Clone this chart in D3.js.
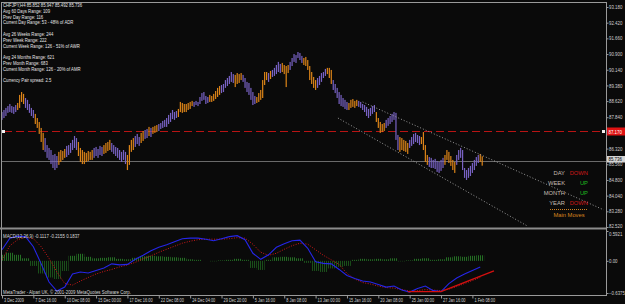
<!DOCTYPE html>
<html><head><meta charset="utf-8">
<script src="https://cdn.jsdelivr.net/npm/d3@7"></script>
<style>
html,body{margin:0;padding:0;background:#0a0a0a;overflow:hidden}
svg{display:block}
text{font-family:"Liberation Sans",Arial,sans-serif}
</style></head><body>
<svg id="c" width="625" height="304"></svg>
<script>
// ---------- DATA ----------
const highs = [
88.09,88.19,88.29,88.38,88.48,88.38,88.34,88.43,88.53,88.92,
89.06,88.97,88.77,88.68,88.48,88.29,88.19,88.00,87.80,87.61,
87.32,87.08,86.83,86.49,86.35,86.25,86.01,86.06,85.96,86.16,
86.25,86.20,86.30,86.45,86.49,86.59,86.74,86.93,86.83,86.64,
86.35,86.25,86.16,86.11,86.20,86.16,86.25,86.35,86.40,86.30,
86.45,86.40,86.49,86.59,86.64,86.74,86.59,86.49,86.40,86.35,
86.25,86.16,86.25,86.16,86.01,86.49,86.74,86.83,86.93,87.03,
86.88,87.08,87.17,87.22,87.27,87.37,87.32,87.37,87.42,87.46,
87.51,87.56,87.66,87.71,87.80,87.95,88.05,88.19,88.09,88.14,
88.24,88.58,88.53,88.48,88.48,88.53,88.58,88.63,88.58,88.63,
88.58,88.82,89.01,89.06,88.87,88.82,88.92,88.87,88.97,89.11,
89.26,89.35,89.40,89.45,89.64,89.74,89.84,90.03,89.93,89.89,
89.98,89.93,89.98,89.89,89.74,89.55,89.50,89.26,89.06,88.87,
88.82,89.01,89.16,89.64,90.03,90.03,89.98,90.08,90.13,90.23,
90.37,90.52,90.42,90.47,90.37,90.32,90.37,90.52,90.71,90.90,
90.85,91.00,90.95,90.81,90.71,90.76,90.61,90.32,90.03,89.79,
89.64,89.74,89.84,89.98,90.03,90.18,90.23,90.23,90.13,89.64,
89.45,89.26,89.06,88.92,88.77,88.68,88.58,88.53,88.68,88.72,
88.63,88.68,88.63,88.58,88.48,88.43,88.34,88.24,88.29,88.38,
88.43,88.09,87.80,87.61,87.51,87.56,87.71,87.80,87.90,88.00,
88.09,88.05,86.98,86.88,86.83,86.74,86.69,86.59,86.74,86.88,
87.03,87.08,86.98,86.93,86.88,87.12,86.49,86.01,85.91,85.87,
85.77,85.82,85.72,85.67,85.77,85.87,86.01,86.25,86.16,85.96,
85.77,85.67,86.01,86.25,86.35,86.25,85.38,85.28,85.38,85.48,
85.62,85.77,85.91,86.01,86.06,85.947];
const lows = [
87.71,87.80,87.90,88.05,88.09,88.05,88.00,88.09,88.19,88.29,
88.58,88.48,88.29,88.19,88.05,87.90,87.80,87.51,87.32,87.03,
86.64,86.25,86.16,85.87,85.77,85.57,85.38,85.28,85.38,85.53,
85.67,85.77,85.87,85.91,86.01,86.11,86.25,86.35,86.25,85.96,
85.67,85.57,85.57,85.67,85.72,85.77,85.77,85.87,85.96,85.87,
86.01,85.96,86.06,86.11,86.20,86.25,86.16,86.06,85.96,85.87,
85.77,85.67,85.77,85.57,85.28,85.53,86.16,86.25,86.40,86.54,
86.45,86.59,86.69,86.79,86.83,86.93,86.88,87.03,87.08,87.12,
87.17,87.27,87.32,87.37,87.37,87.51,87.61,87.75,87.71,87.80,
87.85,88.09,88.05,88.09,88.09,88.19,88.24,88.38,88.34,88.43,
88.38,88.48,88.63,88.68,88.48,88.53,88.58,88.58,88.63,88.72,
88.82,88.92,89.01,89.06,89.26,89.35,89.45,89.55,89.50,89.30,
89.45,89.50,89.64,89.55,89.26,89.06,88.92,88.68,88.43,88.48,
88.53,88.58,88.68,88.77,89.40,89.64,89.55,89.69,89.79,89.84,
89.93,90.03,89.98,90.03,89.93,89.30,89.98,90.13,90.32,90.52,
90.47,90.71,90.61,90.47,90.37,90.32,90.13,89.64,89.45,89.26,
89.16,89.26,89.40,89.55,89.74,89.84,89.93,89.74,89.45,89.16,
89.01,88.77,88.48,88.38,88.34,88.24,88.19,88.19,88.29,88.34,
88.29,88.38,88.34,88.29,88.19,88.09,87.90,87.80,87.90,88.00,
88.09,87.61,87.32,87.08,87.12,87.17,87.32,87.42,87.51,87.61,
87.71,86.74,86.25,86.16,86.25,86.20,86.16,86.06,86.35,86.45,
86.54,86.64,86.59,86.49,86.54,86.25,85.67,85.53,85.43,85.38,
85.38,85.33,85.19,85.14,85.24,85.38,85.53,85.77,85.62,85.48,
85.28,85.14,85.53,85.77,85.87,85.28,84.90,84.80,84.90,84.99,
85.14,85.28,85.48,85.62,85.67,85.492];
// bar type per bar: u = orange, d = purple
const barTypes = ("dddddddd"+"uuuu"+"ddddd"+"uuuuu"+"ddddddd"+"uuuu"+"dddddd"+"uuuuuuuu"+
  "ddddd"+"uuuu"+"dddddddd"+"uuuu"+"ddd"+"uu"+"dd"+"u"+"d"+"uuu"+"dddddddddd"+"uuuuuuuu"+
  "dddddddd"+"uuuuuu"+"ddddddd"+"uuuu"+"ddddddd"+"uuuuuu"+"d"+"u"+"ddddd"+"uuuu"+"ddddddd"+
  "uuuuuuu"+"ddddd"+"uuu"+"dddddddd"+"uuuuu"+"ddddddddd"+"uuuuu"+"ddddddd"+"uuuuu"+"dddddd"+
  "uuuu"+"dddddddd"+"uuuuuu"+"dddddddddddd"+"uu").split("");

const priceTicks = [93.18,92.42,91.66,90.90,90.14,89.38,88.62,87.84,86.32,85.56,84.80,84.04,83.28,82.52];
const levelPrice = 87.17;
const levelLabel = "87.170";
const bidPrice = 85.736;
const bidLabel = "85.736";

// channel lines: [bar index, price]
const channelUpper = [[184, 88.58],[307, 83.35]];
const channelLower = [[171.4, 87.80],[268, 82.57]];

// MACD samples every 4 bars
const macdMain = [0.22,0.45,0.49,0.48,0.28,-0.06,-0.42,-0.60,-0.52,-0.26,
 -0.22,-0.24,-0.19,-0.14,-0.06,-0.08,-0.07,0.03,0.11,0.20,
 0.27,0.32,0.38,0.44,0.45,0.45,0.43,0.40,0.44,0.48,
 0.50,0.42,0.15,0.03,0.12,0.27,0.34,0.40,0.41,0.25,
 -0.02,-0.05,-0.06,-0.17,-0.29,-0.35,-0.40,-0.42,-0.47,-0.52,
 -0.50,-0.58,-0.62,-0.55,-0.50,-0.59,-0.61,-0.45,-0.34,-0.26,
 -0.19,-0.12];
const macdSignal = [0.02,0.30,0.42,0.47,0.44,0.28,0.05,-0.22,-0.45,-0.48,
 -0.40,-0.33,-0.26,-0.21,-0.17,-0.12,-0.08,-0.03,0.04,0.10,
 0.17,0.23,0.29,0.35,0.39,0.42,0.43,0.43,0.43,0.44,
 0.46,0.45,0.33,0.17,0.11,0.15,0.23,0.30,0.35,0.33,
 0.22,0.11,0.02,-0.07,-0.25,-0.36,-0.43,-0.46,-0.50,-0.53,
 -0.54,-0.57,-0.60,-0.59,-0.57,-0.58,-0.59,-0.56,-0.51,-0.45,
 -0.39,-0.33];
const macdHist = [0.12,0.16,0.12,0.05,-0.10,-0.25,-0.33,-0.36,-0.20,0.10,
 0.14,0.08,0.05,0.06,0.07,0.04,0.03,0.06,0.09,0.10,
 0.09,0.08,0.07,0.06,0.03,0.02,0.00,-0.01,0.01,0.02,
 0.04,0.02,-0.14,-0.18,0.02,0.07,0.08,0.07,0.05,-0.04,
 -0.20,-0.22,-0.15,-0.12,-0.10,0.02,0.04,0.03,0.04,0.03,
 0.05,-0.01,0.01,0.04,0.05,0.02,0.03,0.07,0.09,0.08,
 0.10,0.11];
const macdTicks = [0.5921, 0, -0.6375];
const macdTrend = [[207,-0.61],[224,-0.61],[251,-0.20]];

const timeLabels = ["3 Dec 2009","7 Dec 16:00","10 Dec 08:00","15 Dec 00:00","17 Dec 16:00",
 "22 Dec 08:00","24 Dec 04:00","29 Dec 20:00","5 Jan 16:00","8 Jan 08:00","13 Jan 00:00",
 "15 Jan 16:00","20 Jan 08:00","25 Jan 00:00","27 Jan 16:00","1 Feb 08:00"];

const infoLines = ["CHFJPY,H4 85.852 85.947 85.492 85.736","Avg 60 Days Range: 109","Prev Day Range: 116",
 "Current Day Range: 53 - 48% of ADR","","Avg 26 Weeks Range: 244","Prev Week Range: 222",
 "Current Week Range: 126 - 51% of AWR","","Avg 24 Months Range: 621","Prev Month Range: 683",
 "Current Month Range: 126 - 20% of AMR","","Currency Pair spread: 2.5"];
const trendPeriods = ["DAY","WEEK","MONTH","YEAR"];
const trendStates = ["DOWN","UP","UP","DOWN"];
const macdTitle = "MACD(12,26,9) -0.1117 -0.2155 0.1837";
const copyright = "MetaTrader - Alpari UK, \u00a9 2001-2009 MetaQuotes Software Corp.";

// ---------- LAYOUT ----------
const W=625,H=304, L=1, R=606, mainTop=2, mainBot=227, macdTop=230, macdBot=295;
const svg = d3.select("#c");
svg.append("rect").attr("width",W).attr("height",H).attr("fill","#0a0a0a");
const defs = svg.append("defs");
defs.append("clipPath").attr("id","cm").append("rect").attr("x",L).attr("y",mainTop).attr("width",R-L).attr("height",mainBot-mainTop);
defs.append("clipPath").attr("id","cd").append("rect").attr("x",L).attr("y",macdTop).attr("width",R-L).attr("height",macdBot-macdTop);
[["hp","#236f23"],["hn","#1a501a"]].forEach(([id,c])=>{
  const p=defs.append("pattern").attr("id",id).attr("patternUnits","userSpaceOnUse").attr("width",2).attr("height",2);
  p.append("rect").attr("width",1).attr("height",2).attr("fill",c);
});

const x = d3.scaleLinear().domain([0, highs.length-1]).range([2, 482.2]);
const y = d3.scaleLinear().domain([82.52, 93.18]).range([227, 7]);
const ym = d3.scaleLinear().domain([-0.6375, 0.5921]).range([293, 231]);
const barColor = d3.scaleOrdinal().domain(["u","d"]).range(["#dc8418","#7862c4"]);

function txt(g,s,x0,y0,size,fill,anchor,sx){
  return g.append("text").attr("transform",`translate(${x0},${y0}) scale(${sx||1},1)`)
    .attr("font-size",size).attr("fill",fill).attr("text-anchor",anchor||"start").text(s);
}

// ---------- MACD panel ----------
const gd = svg.append("g").attr("clip-path","url(#cd)");
const step = 4, sw = x(step)-x(0);
gd.selectAll("rect.h").data(macdHist).join("rect")
  .attr("x",(d,k)=>x(k*step)-sw/2).attr("width",sw)
  .attr("y",d=>Math.min(ym(0),ym(d))).attr("height",d=>Math.abs(ym(d)-ym(0)))
  .attr("fill",d=>d>=0?"url(#hp)":"url(#hn)");
const ml = d3.line().x((d,k)=>x(k*step)).y(d=>ym(d));
gd.append("path").attr("d",ml(macdSignal)).attr("fill","none").attr("stroke","#d01818").attr("stroke-width",1).attr("stroke-dasharray","1,1.5");
gd.append("path").attr("d",ml(macdMain)).attr("fill","none").attr("stroke","#2626e8").attr("stroke-width",1.1);
gd.append("path").attr("d",d3.line().x(d=>x(d[0])).y(d=>ym(d[1]))(macdTrend)).attr("fill","none").attr("stroke","#d41010").attr("stroke-width",1.4);
txt(svg,macdTitle,3,238,5,"#d8d8d8","start",0.88);
txt(svg,copyright,3,293.5,5,"#d8d8d8","start",0.88);

// ---------- main panel ----------
const gm = svg.append("g").attr("clip-path","url(#cm)");
gm.append("line").attr("x1",L).attr("x2",R).attr("y1",Math.round(y(bidPrice))+0.5).attr("y2",Math.round(y(bidPrice))+0.5).attr("stroke","#6a6a6a");
gm.append("line").attr("x1",L+3).attr("x2",R-3).attr("y1",Math.round(y(levelPrice))+0.5).attr("y2",Math.round(y(levelPrice))+0.5)
  .attr("stroke","#b81414").attr("stroke-dasharray","8,4");
[L+1,R-4].forEach(px=>gm.append("rect").attr("x",px).attr("y",Math.round(y(levelPrice))-1).attr("width",3).attr("height",3).attr("fill","#f0f0f0"));

const bars = highs.map((h,i)=>({i,h,l:lows[i],t:barTypes[i]||"d"}));
gm.selectAll("rect.b").data(bars).join("rect")
  .attr("x",d=>x(d.i)-0.6).attr("width",1.2)
  .attr("y",d=>y(d.h)).attr("height",d=>Math.max(1,y(d.l)-y(d.h)))
  .attr("fill",d=>barColor(d.t));

const cl = d3.line().x(d=>x(d[0])).y(d=>y(d[1]));
[channelUpper,channelLower].forEach(c=>gm.append("path").attr("d",cl(c)).attr("fill","none")
  .attr("stroke","#a8a8a8").attr("stroke-width",0.9).attr("stroke-dasharray","1,2"));

infoLines.forEach((s,i)=>{ if(s) txt(svg,s,3,7+5.8*i,5,"#e6e6e6","start",0.85); });

const lgY = [175,185,194.5,204.5];
trendPeriods.forEach((s,i)=>{
  txt(svg,s,565,lgY[i],5.8,"#c4bcb2","end");
  txt(svg,trendStates[i],588,lgY[i],5.8,trendStates[i]==="UP"?"#1fb81f":"#cc1818","end");
});
svg.append("line").attr("x1",550).attr("x2",588).attr("y1",209.5).attr("y2",209.5).attr("stroke","#d08020").attr("stroke-dasharray","1,1");
txt(svg,"Main Moves",569,216.5,5.8,"#d8861e","middle");

// ---------- frame ----------
const fc="#9a9a9a";
svg.append("line").attr("x1",L).attr("x2",R).attr("y1",2.5).attr("y2",2.5).attr("stroke",fc);
svg.append("line").attr("x1",1.5).attr("x2",1.5).attr("y1",2).attr("y2",macdBot).attr("stroke",fc);
svg.append("line").attr("x1",R+0.5).attr("x2",R+0.5).attr("y1",2).attr("y2",macdBot+1).attr("stroke",fc);
svg.append("line").attr("x1",0).attr("x2",R).attr("y1",228.5).attr("y2",228.5).attr("stroke","#8c8c8c").attr("stroke-width",2);
svg.append("line").attr("x1",L).attr("x2",R).attr("y1",macdBot+0.5).attr("y2",macdBot+0.5).attr("stroke",fc);

// ---------- axes ----------
const fam = "Liberation Sans, Arial, sans-serif";
const ay = svg.append("g").attr("transform",`translate(${R+0.5},0)`)
  .call(d3.axisRight(y).tickValues(priceTicks).tickSize(2).tickFormat(d3.format(".3f")));
ay.select(".domain").remove();
ay.selectAll("line").attr("stroke",fc);
ay.selectAll("text").attr("fill","#cfcfcf").attr("font-size",5).attr("font-family",fam)
  .attr("x",2.5/0.88).attr("dy",d=>d===82.52?"0.05em":"0.32em").attr("transform","scale(0.88,1)");

const am = svg.append("g").attr("transform",`translate(${R+0.5},0)`)
  .call(d3.axisRight(ym).tickValues(macdTicks).tickSize(2).tickFormat(d=>d===0?"0.00":d3.format(".4f")(d)));
am.select(".domain").remove();
am.selectAll("line").attr("stroke",fc);
am.selectAll("text").attr("fill","#cfcfcf").attr("font-size",5).attr("font-family",fam)
  .attr("x",2.5/0.88).attr("dy",d=>d>0.5?"0.9em":"0.32em").attr("transform","scale(0.88,1)");

const ax = svg.append("g").attr("transform",`translate(0,${macdBot+0.5})`)
  .call(d3.axisBottom(x).tickValues(timeLabels.map((_,k)=>k*16)).tickSize(3).tickFormat((d,k)=>timeLabels[k]));
ax.select(".domain").remove();
ax.selectAll("line").attr("stroke",fc);
ax.selectAll("text").attr("fill","#cfcfcf").attr("font-size",5).attr("font-family",fam)
  .attr("text-anchor","start").attr("x",1.5/0.78).attr("y",2.6).attr("transform","scale(0.78,1)");

// price labels
const ly = Math.round(y(levelPrice));
svg.append("rect").attr("x",R+1).attr("y",ly-3.5).attr("width",W-R-1).attr("height",8).attr("fill","#e01212");
txt(svg,levelLabel,R+2.5,ly+2.5,5,"#ffffff","start",0.88);
const by = Math.round(y(bidPrice));
svg.append("rect").attr("x",R+1).attr("y",by-5).attr("width",W-R-1).attr("height",6.5).attr("fill","#d4d4d4");
txt(svg,bidLabel,R+2.5,by,5,"#000000","start",0.88);
</script>
</body></html>
